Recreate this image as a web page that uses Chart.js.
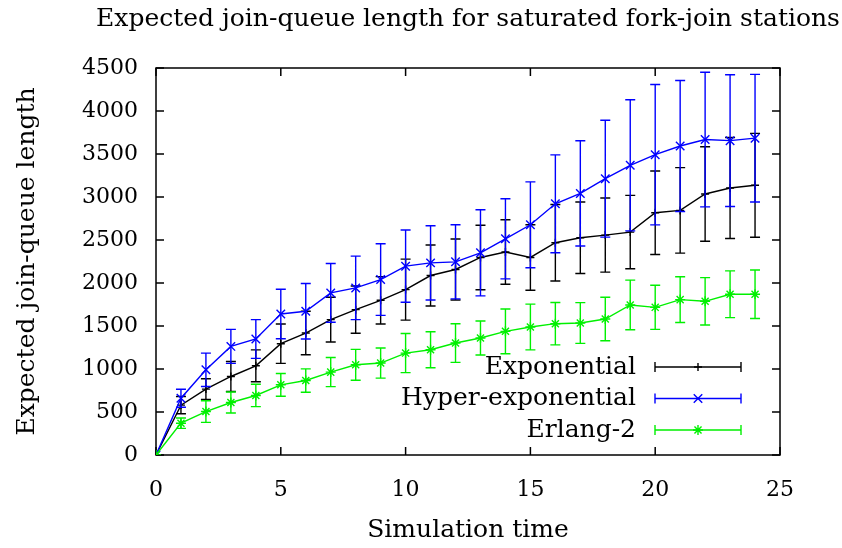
<!DOCTYPE html>
<html>
<head>
<meta charset="utf-8">
<title>Expected join-queue length</title>
<script src="https://cdn.jsdelivr.net/npm/chart.js@4.4.1/dist/chart.umd.min.js"></script>
<style>
  html, body { margin: 0; padding: 0; background: #fff; }
</style>
</head>
<body>
<canvas id="myChart" width="842" height="548"></canvas>
<script>
// simulation time steps (x axis)
var times = [0, 1, 2, 3, 4, 5, 6, 7, 8, 9, 10, 11, 12, 13, 14, 15, 16, 17, 18, 19, 20, 21, 22, 23, 24];

// mean join-queue length and error (half height of the bar) per series
var expMean = [0, 580, 766, 913, 1037, 1294, 1418, 1574, 1690, 1799, 1923, 2087, 2157, 2297, 2360, 2297, 2468, 2526, 2557, 2592, 2817, 2844, 3035, 3105, 3136];
var expErr = [0, 100, 120, 175, 185, 229, 253, 260, 275, 275, 355, 355, 355, 375, 375, 381, 445, 415, 431, 427, 486, 497, 549, 587, 604];

var hyperMean = [0, 660, 991, 1263, 1349, 1640, 1671, 1885, 1943, 2040, 2196, 2234, 2246, 2351, 2514, 2677, 2921, 3042, 3213, 3368, 3492, 3593, 3668, 3655, 3684];
var hyperErr = [0, 105, 194, 198, 225, 288, 323, 342, 369, 416, 420, 431, 431, 501, 466, 499, 569, 612, 680, 762, 816, 762, 783, 766, 742];

var erlangMean = [0, 370, 505, 610, 692, 816, 866, 964, 1049, 1069, 1185, 1224, 1302, 1360, 1438, 1488, 1527, 1535, 1581, 1745, 1717, 1807, 1787, 1869, 1869];
var erlangErr = [0, 60, 126, 122, 130, 132, 136, 169, 179, 175, 227, 210, 225, 198, 260, 266, 247, 237, 253, 288, 256, 266, 276, 272, 282];

var seriesNames = ["Exponential", "Hyper-exponential", "Erlang-2"];
var titleText = "Expected join-queue length for saturated fork-join stations";
var xTitle = "Simulation time";
var yTitle = "Expected join-queue length";

var FONT = "'DejaVu Serif', serif";
var FSIZE = 25;   // titles and key
var TSIZE = 22;   // tick labels

function toPoints(vals) {
  return times.map(function (t, i) { return { x: t, y: vals[i] }; });
}

// error bars drawn right after each line, using the y scale
var errorBars = {
  id: 'errorBars',
  afterDatasetDraw: function (chart, args) {
    var ds = chart.data.datasets[args.index];
    if (!ds.errors) return;
    var ctx = chart.ctx, y = chart.scales.y;
    ctx.save();
    ctx.strokeStyle = ds.borderColor;
    ctx.lineWidth = 1.4;
    ctx.beginPath();
    args.meta.data.forEach(function (pt, i) {
      var e = ds.errors[i];
      if (!e) return;
      var v = ds.data[i].y;
      var top = y.getPixelForValue(v + e);
      var bot = y.getPixelForValue(v - e);
      ctx.moveTo(pt.x, top); ctx.lineTo(pt.x, bot);
      ctx.moveTo(pt.x - 5, top); ctx.lineTo(pt.x + 5, top);
      ctx.moveTo(pt.x - 5, bot); ctx.lineTo(pt.x + 5, bot);
    });
    ctx.stroke();
    ctx.restore();
  }
};

// box round the plot with inward ticks on all four sides, plus the title
var frame = {
  id: 'frame',
  beforeDatasetsDraw: function (chart) {
    var a = chart.chartArea, ctx = chart.ctx;
    var xs = chart.scales.x, ys = chart.scales.y;
    ctx.save();
    ctx.strokeStyle = '#000';
    ctx.lineWidth = 1.5;
    ctx.beginPath();
    xs.ticks.forEach(function (t) {
      var px = xs.getPixelForValue(t.value);
      ctx.moveTo(px, a.bottom); ctx.lineTo(px, a.bottom - 8);
      ctx.moveTo(px, a.top); ctx.lineTo(px, a.top + 8);
    });
    ys.ticks.forEach(function (t) {
      var py = ys.getPixelForValue(t.value);
      ctx.moveTo(a.left, py); ctx.lineTo(a.left + 8, py);
      ctx.moveTo(a.right, py); ctx.lineTo(a.right - 8, py);
    });
    ctx.stroke();
    ctx.strokeRect(a.left, a.top, a.right - a.left, a.bottom - a.top);
    ctx.restore();
  },
  afterDraw: function (chart) {
    var a = chart.chartArea, ctx = chart.ctx;
    ctx.save();
    ctx.fillStyle = '#000';
    ctx.font = FSIZE + 'px ' + FONT;
    ctx.textAlign = 'center';
    ctx.textBaseline = 'middle';
    ctx.fillText(titleText, (a.left + a.right) / 2, 19);
    ctx.restore();
  }
};

// key in the lower right of the plot, text on the left of the sample
var keyBox = {
  id: 'keyBox',
  afterDraw: function (chart) {
    var a = chart.chartArea, ctx = chart.ctx;
    ctx.save();
    ctx.font = FSIZE + 'px ' + FONT;
    ctx.textAlign = 'right';
    ctx.textBaseline = 'middle';
    chart.data.datasets.forEach(function (ds, i) {
      var yy = a.bottom - 88 + i * 31.5;
      var x1 = a.right - 125, x2 = a.right - 39;
      ctx.fillStyle = '#000';
      ctx.fillText(ds.label, a.right - 144, yy);
      ctx.strokeStyle = ds.borderColor;
      ctx.lineWidth = 1.4;
      ctx.beginPath();
      ctx.moveTo(x1, yy); ctx.lineTo(x2, yy);
      ctx.moveTo(x1, yy - 5); ctx.lineTo(x1, yy + 5);
      ctx.moveTo(x2, yy - 5); ctx.lineTo(x2, yy + 5);
      ctx.stroke();
      Chart.helpers.drawPoint(ctx, {
        pointStyle: ds.pointStyle, radius: ds.pointRadius, rotation: 0, borderWidth: 1.4
      }, (x1 + x2) / 2, yy);
    });
    ctx.restore();
  }
};

var ctx = document.getElementById('myChart').getContext('2d');
var chart = new Chart(ctx, {
  type: 'line',
  data: {
    datasets: [{
      label: seriesNames[0],
      data: toPoints(expMean),
      errors: expErr,
      borderColor: '#000000',
      pointStyle: 'cross',
      pointRadius: 4,
      order: 3
    }, {
      label: seriesNames[1],
      data: toPoints(hyperMean),
      errors: hyperErr,
      borderColor: '#0000ff',
      pointStyle: 'crossRot',
      pointRadius: 6,
      order: 2
    }, {
      label: seriesNames[2],
      data: toPoints(erlangMean),
      errors: erlangErr,
      borderColor: '#00f000',
      pointStyle: 'star',
      pointRadius: 5,
      order: 1
    }]
  },
  options: {
    responsive: false,
    animation: false,
    devicePixelRatio: 1,
    layout: { padding: { left: 0, top: 68, right: 62, bottom: 0 } },
    elements: {
      line: { borderWidth: 1.4, tension: 0, fill: false },
      point: { borderWidth: 1.4, hoverRadius: 5 }
    },
    plugins: {
      legend: { display: false },
      tooltip: { enabled: false },
      title: { display: false }
    },
    scales: {
      x: {
        type: 'linear',
        min: 0, max: 25,
        ticks: {
          stepSize: 5, padding: 22, color: '#000', font: { family: FONT, size: TSIZE },
          callback: function (v) { return String(v); }
        },
        grid: { display: false, drawTicks: false },
        border: { display: false },
        title: { display: true, text: xTitle, color: '#000', padding: { top: 0, bottom: 3 }, font: { family: FONT, size: FSIZE } },
        afterFit: function (s) { s.height = 93; }
      },
      y: {
        min: 0, max: 4500,
        ticks: {
          stepSize: 500, padding: 18, color: '#000', font: { family: FONT, size: TSIZE },
          callback: function (v) { return String(v); }
        },
        grid: { display: false, drawTicks: false },
        border: { display: false },
        title: { display: true, text: yTitle, color: '#000', padding: { top: 12, bottom: 0 }, font: { family: FONT, size: FSIZE } },
        afterFit: function (s) { s.width = 156; }
      }
    }
  },
  plugins: [errorBars, frame, keyBox]
});
</script>
</body>
</html>
